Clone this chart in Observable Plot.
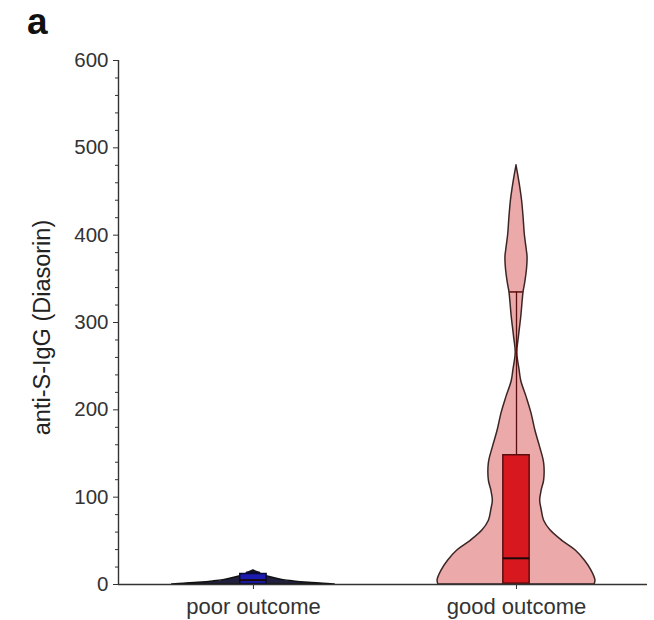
<!DOCTYPE html>
<html>
<head>
<meta charset="utf-8">
<script src="https://cdn.jsdelivr.net/npm/d3@7"></script>
<script src="https://cdn.jsdelivr.net/npm/@observablehq/plot@0.6"></script>
<style>
  html, body { margin: 0; padding: 0; background: #fff; }
  #panel { width: 654px; height: 40px; box-sizing: border-box; padding: 4px 0 0 27px;
           font: bold 37px/36px "Liberation Sans", Arial, sans-serif; color: #111; }
  #chart svg { display: block; }
</style>
</head>
<body>
<div id="panel">a</div>
<div id="chart"></div>
<script>
// ---- data ----
const categories = ["poor outcome", "good outcome"];
const yTicks = [0, 100, 200, 300, 400, 500, 600];
const yLabel = "anti-S-IgG (Diasorin)";

// violin outline: value (anti-S-IgG) and relative density (half-width, 1 = widest)
const poorValues  = [0, 1, 2, 3.5, 5, 8, 11, 14, 16];
const poorDensity = [1.03, 0.88, 0.70, 0.51, 0.38, 0.23, 0.12, 0.05, 0];

const goodValues  = [0, 5, 16, 27, 39, 50, 62, 73, 85, 96, 108, 119, 139, 157, 176, 196, 214, 233, 245, 265, 283, 306, 335, 345, 363, 375, 383, 401, 420, 440, 459, 480];
const goodDensity = [0.99, 1.0, 0.95, 0.87, 0.75, 0.58, 0.43, 0.35, 0.32, 0.30, 0.32, 0.35, 0.35, 0.30, 0.24, 0.19, 0.13, 0.06, 0.04, 0.01, 0.03, 0.06, 0.09, 0.11, 0.135, 0.14, 0.13, 0.105, 0.09, 0.07, 0.04, 0];

// box statistics per category
const q1      = [0.5, 1];
const medians = [5, 30];
const q3      = [12, 148];
const whiskHi = [14, 335];

// ---- build tables ----
const violins = [
  poorValues.map((v, i) => ({pos: 1, value: v, density: poorDensity[i]})),
  goodValues.map((v, i) => ({pos: 2, value: v, density: goodDensity[i]}))
];
const boxes = categories.map((c, i) => ({
  cat: c, pos: i + 1, q1: q1[i], median: medians[i], q3: q3[i], hi: whiskHi[i]
}));

const xDomain = [0.487, 2.498];
const VW = 0.30;   // violin max half-width (x units)
const BW = 0.05;   // box half-width
const CW = 0.026;  // whisker cap half-width

const violinFill   = ["#20203e", "#eba9a9"];
const violinStroke = ["#111111", "#3b2626"];
const boxFill      = ["#1c1cb0", "#d7191f"];
const boxStroke    = ["#0b0b30", "#5a0d0d"];

const axisColor = "#333";

const plot = Plot.plot({
  width: 654,
  height: 580,
  marginLeft: 118,
  marginRight: 7,
  marginTop: 20,
  marginBottom: 36,
  style: {fontFamily: "'Liberation Sans', Arial, sans-serif", color: axisColor, background: "#fff"},
  x: {domain: xDomain, label: null},
  y: {domain: [0, 600], label: null},
  marks: [
    // violins
    ...violins.map((rows, i) => Plot.areaX(rows, {
      y: "value",
      x1: d => d.pos - VW * d.density,
      x2: d => d.pos + VW * d.density,
      curve: "catmull-rom",
      fill: violinFill[i],
      stroke: violinStroke[i],
      strokeWidth: 1.5
    })),
    // whiskers
    Plot.ruleX(boxes, {x: "pos", y1: "q3", y2: "hi", stroke: d => boxStroke[d.pos - 1], strokeWidth: 1.3}),
    Plot.ruleY(boxes, {y: "hi", x1: d => d.pos - CW, x2: d => d.pos + CW, stroke: d => boxStroke[d.pos - 1], strokeWidth: 1.5}),
    // boxes
    Plot.rect(boxes, {
      x1: d => d.pos - BW, x2: d => d.pos + BW, y1: "q1", y2: "q3",
      fill: d => boxFill[d.pos - 1], stroke: d => boxStroke[d.pos - 1], strokeWidth: 1.5
    }),
    // medians
    Plot.ruleY(boxes, {y: "median", x1: d => d.pos - BW, x2: d => d.pos + BW, stroke: "#1a0a0a", strokeWidth: 2}),
    // axis lines
    Plot.ruleY([0], {stroke: axisColor, strokeWidth: 1.4}),
    Plot.ruleX([xDomain[0]], {y1: 0, y2: 600, stroke: axisColor, strokeWidth: 1.4}),
    // minor y ticks
    Plot.axisY({ticks: d3.range(0, 601, 20).filter(v => v % 100 !== 0), tickSize: 3, tickFormat: () => "", label: null}),
    // major y ticks
    Plot.axisY({ticks: yTicks, tickSize: 5, tickPadding: 5, fontSize: 20.5, label: null}),
    // x axis
    Plot.axisX({ticks: [1, 2], tickFormat: d => categories[d - 1], tickSize: 5, tickPadding: 9, fontSize: 22, label: null}),
    // y axis title
    Plot.text([yLabel], {frameAnchor: "left", textAnchor: "middle", rotate: -90, dx: -76, dy: 5, fontSize: 23.5, fill: "#222"})
  ]
});
document.getElementById("chart").append(plot);
</script>
</body>
</html>
